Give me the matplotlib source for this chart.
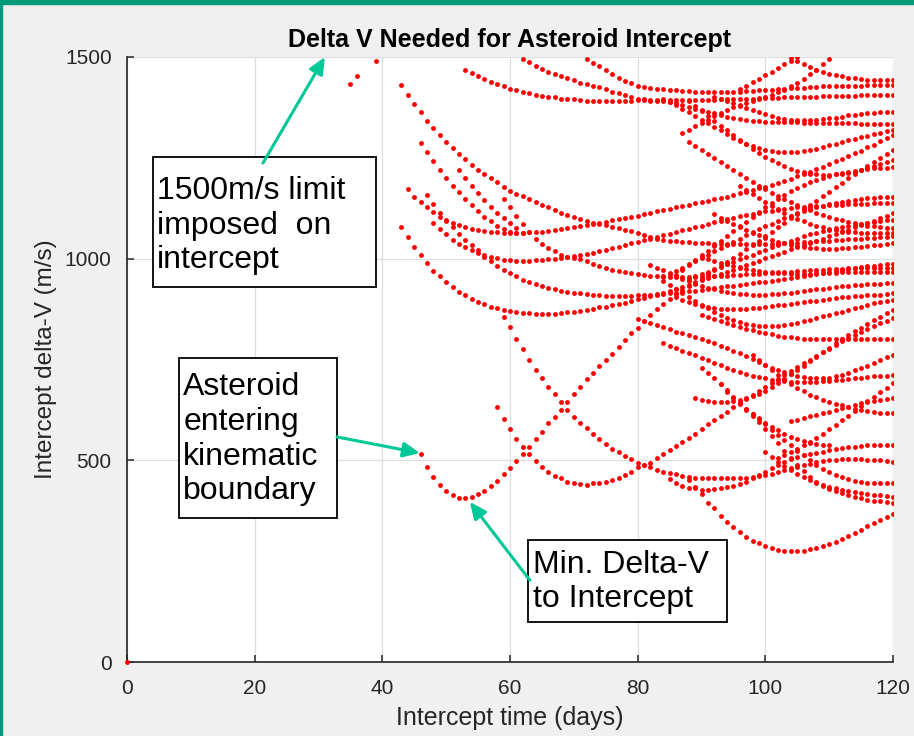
import numpy as np
import matplotlib
matplotlib.use('Agg')
import matplotlib.pyplot as plt
from matplotlib.patches import Rectangle

plt.rcParams['font.family'] = ['Liberation Sans', 'DejaVu Sans']

# stray points near the 1500 m/s limit
stray_days = [0, 35, 36, 39]
stray_dv = [0, 1432, 1452, 1490]

# each curve: first day + one delta-V value (m/s) per day
d1_start = 43
d1_dv = [1430, 1407, 1383, 1363, 1342, 1324, 1307, 1290, 1275, 1260,
         1246, 1233, 1221, 1210, 1199, 1189, 1178, 1169, 1161, 1155,
         1147, 1140, 1133, 1127, 1121, 1114, 1108, 1103, 1099, 1094,
         1089, 1086, 1083, 1079, 1075, 1071, 1068, 1064, 1059, 1054,
         1050, 1047, 1045, 1043, 1042, 1041, 1040, 1039, 1038, 1037,
         1037, 1036, 1036, 1036, 1036, 1036, 1036, 1036, 1037, 1037,
         1038, 1039, 1040, 1041, 1042, 1043, 1044, 1045, 1046, 1047,
         1048, 1049, 1050, 1051, 1052, 1053, 1054, 1055]

arc_a_start = 53
arc_a_dv = [1469, 1461, 1453, 1445, 1439, 1433, 1428, 1421, 1418, 1414,
            1411, 1407, 1404, 1401, 1400, 1397, 1396, 1395, 1393, 1392,
            1392, 1391, 1391, 1391, 1391, 1391, 1391, 1393, 1393, 1392,
            1391, 1390, 1388, 1385, 1381, 1377, 1372, 1368, 1364, 1360,
            1356, 1352, 1349, 1346, 1344, 1342, 1341, 1340, 1339, 1339,
            1338, 1338, 1338, 1337, 1337, 1337, 1337, 1336, 1336, 1336,
            1336, 1336, 1335, 1335, 1335, 1335, 1335, 1335]

arc_b_start = 62
arc_b_dv = [1495, 1487, 1478, 1470, 1463, 1458, 1453, 1447, 1443, 1436,
            1433, 1429, 1426, 1420, 1414, 1410, 1406, 1402, 1397, 1395,
            1394, 1393, 1393, 1393, 1393, 1393, 1393, 1393, 1394, 1394,
            1394, 1395, 1395, 1395, 1396, 1396, 1397, 1398, 1398, 1399,
            1399, 1400, 1400, 1401, 1401, 1402, 1402, 1403, 1403, 1403,
            1404, 1404, 1404, 1405, 1405, 1405, 1405, 1406, 1406]

arc_c_start = 72
arc_c_dv = [1495, 1486, 1477, 1468, 1457, 1447, 1441, 1435, 1428, 1426,
            1423, 1421, 1420, 1418, 1417, 1416, 1415, 1414, 1414, 1413,
            1413, 1413, 1413, 1413, 1414, 1415, 1416, 1417, 1418, 1419,
            1420, 1421, 1422, 1423, 1424, 1425, 1426, 1427, 1427, 1428,
            1428, 1429, 1429, 1429, 1430, 1430, 1430, 1430, 1430]

k4_start = 44
k4_dv = [1172, 1154, 1140, 1127, 1115, 1104, 1094, 1088, 1083, 1078,
         1074, 1070, 1069, 1066, 1065, 1064, 1063, 1063, 1063, 1065,
         1065, 1067, 1069, 1071, 1073, 1075, 1078, 1080, 1083, 1085,
         1088, 1092, 1096, 1099, 1101, 1104, 1107, 1111, 1114, 1117,
         1120, 1124, 1127, 1130, 1133, 1137, 1140, 1143, 1147, 1150,
         1154, 1158, 1162, 1166, 1170, 1174, 1178, 1183, 1188, 1193,
         1198, 1204, 1210, 1216, 1222, 1228, 1234, 1241, 1247, 1254,
         1261, 1268, 1276, 1283, 1291, 1298, 1306]

k5_start = 46
k5_dv = [1288, 1264, 1242, 1220, 1199, 1181, 1165, 1148, 1132, 1118,
         1104, 1093, 1081, 1073, 1066, 1063, 1063]

k6_start = 52
k6_dv = [1220, 1199, 1180, 1162, 1146, 1129, 1114, 1100, 1088, 1075]

k7_start = 59
k7_dv = [1149, 1127, 1106, 1086, 1066, 1050, 1036, 1026, 1018, 1010,
         1005, 1002, 998, 994, 988, 982, 977, 973, 970, 966,
         964, 962, 960, 958, 957, 956, 955, 955, 955, 955,
         955, 955, 956, 956, 957, 958, 959, 960, 961, 962,
         963, 964, 965, 966, 967, 968, 969, 970, 971, 972,
         973, 974, 975, 975, 976, 976, 976, 976, 976, 976,
         976, 976]

k8_start = 47
k8_dv = [1158, 1135, 1113, 1096, 1078, 1062, 1047, 1035, 1022, 1010,
         1005, 1001, 997, 996, 995, 995, 995, 996, 997, 998,
         1000, 1002, 1004, 1006, 1009, 1012, 1015, 1018, 1022, 1026,
         1030, 1034, 1038, 1042, 1046, 1050, 1054, 1058, 1062, 1066,
         1070, 1074, 1078, 1082, 1086, 1090, 1094, 1098, 1102, 1105,
         1108, 1111, 1114, 1117, 1119, 1121, 1123, 1125, 1127, 1128,
         1129, 1130, 1131, 1132, 1133, 1134, 1135, 1135, 1136, 1136,
         1137, 1137, 1137, 1137]

k9_start = 48
k9_dv = [1088, 1073, 1060, 1046, 1037, 1028, 1022, 1015, 1005, 993,
         982, 972, 964, 956, 947, 941, 937, 932, 928, 924,
         921, 917, 916, 914, 913, 911, 909, 908, 908, 908,
         908, 908, 909, 910, 911, 912, 913, 914, 915, 917,
         919, 921, 923, 925, 927, 929, 931, 933, 935, 937,
         939, 941, 943, 945, 947, 950, 952, 955, 957, 960,
         962, 965, 967, 970, 972, 975, 977, 979, 981, 983,
         985, 987, 988]

k10_start = 43
k10_dv = [1078, 1053, 1029, 1008, 989, 970, 956, 941, 929, 918,
          909, 900, 893, 887, 881, 877, 873, 870, 867, 866,
          865, 864, 864, 864, 864, 866, 868, 869, 870, 873,
          875, 879, 881, 884, 888, 891, 896, 899, 903, 907,
          911, 915, 920, 925, 930, 935, 940, 946, 951, 957,
          962, 968, 973, 979, 984, 990, 995, 1001, 1006, 1012,
          1017, 1023, 1028, 1034, 1039, 1045, 1050, 1056, 1061, 1067,
          1072, 1078, 1083, 1089, 1094, 1100, 1106, 1112]

k11_start = 59
k11_dv = [856, 830, 801, 775, 749, 725, 703, 683, 664, 645,
          625, 608, 593, 579, 565, 552, 540, 528, 520, 511,
          503, 493, 488, 483, 476, 472, 468, 465, 460, 458,
          456, 455, 455, 455, 455, 455, 455, 456, 457, 459,
          461, 464, 467, 471, 475, 480, 484, 488, 492, 495,
          498, 500, 502, 503, 504, 504, 503, 502, 501, 500,
          498, 497]

# the curve with the minimum delta-V
k12_start = 46
k12_dv = [515, 484, 458, 438, 424, 413, 407, 407, 408, 416,
          425, 436, 450, 465, 480, 499, 516, 534, 552, 571,
          592, 608, 626, 645, 664, 683, 701, 717, 735, 749,
          764, 782, 798, 815, 829, 845, 860, 875, 888, 900,
          912, 922, 932, 942, 951, 961, 971, 981, 991, 1001,
          1012, 1023, 1034, 1045, 1056, 1067, 1078, 1089, 1100, 1111,
          1122, 1133, 1144, 1155, 1166, 1177, 1188, 1199, 1210, 1220,
          1230, 1240, 1250, 1260, 1269]

k13_start = 58
k13_dv = [631, 603, 577, 553, 534, 516, 498, 484, 472, 461,
          455, 447, 443, 441, 440, 443, 445, 447, 451, 457,
          464, 472, 483, 488, 494, 505, 516, 526, 536, 546,
          556, 566, 577, 589, 600, 611, 621, 631, 641, 651,
          661, 671, 681, 691, 701, 711, 721, 731, 741, 750,
          759, 768, 777, 786, 795, 803, 811, 819, 826, 833,
          840, 846, 852]

low_u_start = 88
low_u_dv = [452, 433, 416, 395, 381, 362, 348, 334, 323, 311,
            301, 294, 288, 282, 278, 275, 274, 274, 276, 279,
            283, 288, 292, 298, 305, 312, 319, 327, 336, 344,
            352, 360, 366]

r17_start = 85
r17_dv = [453, 443, 436, 431, 431, 427, 426, 428, 431, 433,
          436, 441, 447, 455, 464, 472, 480, 488, 497, 503,
          509, 513, 516, 519, 521, 526, 527, 530, 532, 534,
          536, 537, 537, 538, 538, 538]

r18_start = 93
r18_dv = [690, 674, 658, 642, 626, 610, 594, 577, 560, 542,
          524, 506, 489, 473, 459, 446, 436, 430, 425, 420,
          414, 410, 406, 402, 400, 398, 397, 395]

r19_start = 96
r19_dv = [640, 628, 615, 602, 589, 576, 563, 550, 537, 524,
          512, 500, 489, 479, 470, 463, 458, 454, 450, 447,
          445, 444, 443, 443, 443]

r20_start = 100
r20_dv = [520, 508, 496, 485, 475, 466, 458, 451, 445, 440,
          435, 431, 427, 424, 421, 419, 417, 415, 413, 412, 410]

r22_start = 98
r22_dv = [760, 748, 736, 724, 712, 701, 690, 680, 671, 663,
          656, 650, 645, 640, 636, 632, 628, 625, 622, 620,
          618, 617, 617]

r23_start = 102
r23_dv = [505, 512, 520, 528, 537, 546, 556, 566, 577, 588,
          599, 611, 623, 635, 647, 658, 669, 680, 691]

r24_start = 104
r24_dv = [598, 601, 605, 609, 613, 617, 621, 625, 629, 633,
          637, 641, 644, 647, 650, 652, 654]

r25_start = 89
r25_dv = [655, 650, 647, 645, 644, 645, 647, 650, 654, 659,
          665, 673, 682, 692, 702, 713, 724, 735, 746, 757,
          768, 779, 790, 800, 810, 820, 829, 838, 847, 856,
          865, 873]

r26_start = 90
r26_dv = [730, 716, 703, 689, 670, 654, 641, 628, 616, 604,
          593, 583, 574, 566, 559, 553, 548, 544, 541, 539, 538]

r27_start = 80
r27_dv = [850, 846, 841, 835, 830, 825, 819, 815, 811, 806,
          801, 796, 790, 784, 778, 772, 765, 758, 751, 744,
          737, 730, 724, 718, 713, 709, 706, 704, 703, 703,
          705, 708, 712, 717, 723, 729, 735, 742, 748, 755, 761]

r28_start = 84
r28_dv = [790, 784, 778, 772, 766, 760, 754, 748, 742, 736,
          730, 724, 719, 714, 710, 706, 703, 700, 698, 696,
          695, 694, 694, 694, 695, 696, 697, 699, 700, 702,
          703, 705, 706, 708, 709, 710, 711]

r29_start = 90
r29_dv = [860, 855, 850, 845, 840, 835, 830, 826, 822, 818,
          815, 812, 809, 807, 805, 803, 802, 801, 800, 800,
          800, 800, 800, 800, 801, 801, 801, 802, 802, 802, 802]

r31_start = 84
r31_dv = [945, 935, 925, 915, 905, 895, 886, 877, 868, 860,
          853, 847, 842, 838, 835, 833, 832, 832, 833, 835,
          838, 841, 845, 849, 853, 857, 861, 865, 869, 873,
          877, 881, 885, 889, 892, 895, 898]

r32_start = 86
r32_dv = [905, 898, 892, 887, 883, 880, 878, 876, 875, 875,
          875, 876, 877, 878, 880, 882, 884, 886, 888, 890,
          892, 894, 896, 898, 900, 902, 904, 906, 907, 908,
          909, 910, 911, 913, 914]

r33_start = 82
r33_dv = [985, 978, 971, 964, 957, 950, 944, 938, 933, 928,
          924, 920, 917, 915, 913, 912, 911, 911, 911, 912,
          913, 914, 916, 918, 920, 922, 924, 926, 928, 929,
          931, 932, 934, 935, 936, 937, 938, 939, 939]

r35_start = 92
r35_dv = [1400, 1395, 1390, 1385, 1379, 1373, 1368, 1363, 1358, 1354,
          1350, 1347, 1345, 1344, 1344, 1344, 1345, 1346, 1348, 1350,
          1352, 1355, 1357, 1359, 1361, 1362, 1363, 1364, 1364]

r36_start = 84
r36_dv = [1395, 1388, 1380, 1372, 1363, 1354, 1345, 1336, 1327, 1318,
          1309, 1300, 1292, 1285, 1279, 1274, 1270, 1267, 1265, 1264,
          1264, 1265, 1267, 1270, 1273, 1277, 1281, 1285, 1289, 1293,
          1297, 1301, 1305, 1309, 1312, 1316, 1319]

r37_start = 88
r37_dv = [1390, 1378, 1366, 1354, 1342, 1330, 1318, 1306, 1295, 1284,
          1273, 1263, 1253, 1244, 1236, 1229, 1223, 1218, 1214, 1211,
          1209, 1208, 1208, 1209, 1211, 1213, 1216, 1220, 1224, 1229,
          1234, 1239, 1244]

r38_start = 86
r38_dv = [960, 972, 984, 996, 1008, 1020, 1032, 1044, 1056, 1068,
          1080, 1092, 1104, 1116, 1127, 1138, 1148, 1158, 1167, 1175,
          1183, 1190, 1196, 1201, 1205, 1209, 1212, 1215, 1218, 1220,
          1222, 1224, 1225, 1226, 1228]

r39_start = 84
r39_dv = [955, 962, 970, 978, 986, 994, 1002, 1010, 1018, 1026,
          1034, 1042, 1050, 1058, 1066, 1073, 1080, 1087, 1094, 1100,
          1106, 1112, 1117, 1122, 1127, 1131, 1135, 1138, 1141, 1144,
          1146, 1148, 1150, 1151, 1152, 1153, 1154]

r40_start = 88
r40_dv = [950, 956, 962, 968, 974, 980, 986, 992, 998, 1004,
          1010, 1016, 1022, 1028, 1034, 1040, 1045, 1050, 1055, 1060,
          1064, 1068, 1072, 1075, 1078, 1081, 1084, 1087, 1089, 1091,
          1093, 1095, 1096]

r41_start = 88
r41_dv = [1290, 1280, 1270, 1260, 1250, 1240, 1230, 1220, 1210, 1200,
          1190, 1181, 1172, 1163, 1155, 1147, 1140, 1133, 1126, 1120,
          1114, 1109, 1104, 1099, 1095, 1091, 1088, 1085, 1082, 1080,
          1078, 1076, 1075]

r42_start = 96
r42_dv = [1180, 1170, 1160, 1150, 1140, 1131, 1122, 1114, 1106, 1099,
          1093, 1087, 1082, 1078, 1074, 1071, 1068, 1066, 1065, 1064,
          1063, 1063, 1063, 1063, 1063]

r43_start = 92
r43_dv = [1110, 1102, 1094, 1086, 1078, 1071, 1064, 1058, 1052, 1047,
          1042, 1038, 1034, 1031, 1029, 1027, 1026, 1025, 1025, 1025,
          1026, 1027, 1028, 1030, 1031, 1033, 1035, 1036, 1038]

r44_start = 90
r44_dv = [1005, 1000, 995, 990, 986, 982, 978, 975, 972, 970,
          968, 966, 965, 964, 963, 963, 963, 963, 964, 964,
          965, 965, 966, 966, 967, 967, 967, 968, 968, 968, 968]

r46_start = 87
r46_dv = [1312, 1320, 1329, 1337, 1345, 1353, 1361, 1368, 1375, 1381,
          1387, 1392, 1397, 1401, 1406, 1412, 1419, 1427, 1436, 1446,
          1457, 1469, 1482, 1496]

r47_start = 104
r47_dv = [1498, 1490, 1482, 1475, 1469, 1464, 1459, 1455, 1452, 1449,
          1447, 1445, 1444, 1443, 1443, 1443, 1443]

r48_start = 96
r48_dv = [1420, 1428, 1437, 1446, 1455, 1464, 1473, 1482, 1491, 1499]

curves = [
    (d1_start, d1_dv), (arc_a_start, arc_a_dv), (arc_b_start, arc_b_dv),
    (arc_c_start, arc_c_dv), (k4_start, k4_dv), (k5_start, k5_dv),
    (k6_start, k6_dv), (k7_start, k7_dv), (k8_start, k8_dv),
    (k9_start, k9_dv), (k10_start, k10_dv), (k11_start, k11_dv),
    (k12_start, k12_dv), (k13_start, k13_dv), (low_u_start, low_u_dv),
    (r17_start, r17_dv), (r18_start, r18_dv), (r19_start, r19_dv),
    (r20_start, r20_dv), (r22_start, r22_dv), (r23_start, r23_dv),
    (r24_start, r24_dv), (r25_start, r25_dv), (r26_start, r26_dv),
    (r27_start, r27_dv), (r28_start, r28_dv), (r29_start, r29_dv),
    (r31_start, r31_dv), (r32_start, r32_dv), (r33_start, r33_dv),
    (r35_start, r35_dv), (r36_start, r36_dv), (r37_start, r37_dv),
    (r38_start, r38_dv), (r39_start, r39_dv), (r40_start, r40_dv),
    (r41_start, r41_dv), (r42_start, r42_dv), (r43_start, r43_dv),
    (r44_start, r44_dv), (r46_start, r46_dv), (r47_start, r47_dv),
    (r48_start, r48_dv),
]

fig = plt.figure(figsize=(9.14, 7.36), dpi=100, facecolor='#f0f0f0')
ax = fig.add_axes([127 / 914, 74 / 736, 766 / 914, 605 / 736])
ax.set_facecolor('white')

for start, dv in curves:
    days = start + np.arange(len(dv))
    ax.plot(days, dv, 'o', color='red', ms=3.5, mew=0, zorder=3)
ax.plot(stray_days, stray_dv, 'o', color='red', ms=3.5, mew=0, zorder=3, clip_on=False)

ax.set_xlim(0, 120)
ax.set_ylim(0, 1500)
ax.set_xticks(range(0, 121, 20))
ax.set_yticks([0, 500, 1000, 1500])
ax.grid(True, color='#dedede', lw=0.9)
ax.set_axisbelow(True)
for s in ['top', 'right']:
    ax.spines[s].set_visible(False)
for s in ['left', 'bottom']:
    ax.spines[s].set_color('#262626')
    ax.spines[s].set_linewidth(1.2)
ax.tick_params(direction='in', length=5, width=1.1, colors='#262626', labelsize=15)
ax.tick_params(axis='x', pad=12)
ax.tick_params(axis='y', pad=11)

ax.set_title('Delta V Needed for Asteroid Intercept', fontsize=18,
             fontweight='bold', pad=7)
ax.set_xlabel('Intercept time (days)', fontsize=18, color='#262626', labelpad=6)
ax.set_ylabel('Intercept delta-V (m/s)', fontsize=17.5, color='#262626', labelpad=6)

# annotation boxes
green = '#00c896'
boxes = [
    (4.07, 930, 34.9, 322, 4.7, 1082, '1500m/s limit\nimposed  on\nintercept'),
    (8.15, 357, 24.75, 397, 8.8, 552, 'Asteroid\nentering\nkinematic\nboundary'),
    (62.8, 99, 31.2, 203.5, 63.6, 198, 'Min. Delta-V\nto Intercept'),
]
for x0, y0, w, h, tx, ty, label in boxes:
    ax.add_patch(Rectangle((x0, y0), w, h, facecolor='white', edgecolor='black',
                           lw=1.3, zorder=5, clip_on=False))
    ax.text(tx, ty, label, fontsize=23, ha='left', va='center',
            linespacing=1.2, zorder=6)

arrows = [((21.3, 1237), (31.0, 1500)),
          ((32.9, 558), (45.9, 518)),
          ((63.1, 203), (53.7, 397))]
for tail, head in arrows:
    ax.annotate('', xy=head, xytext=tail, zorder=7,
                arrowprops=dict(arrowstyle='-|>,head_length=1.0,head_width=0.45',
                                color=green, lw=2.2, shrinkA=0, shrinkB=0))

# window frame
fig.add_artist(Rectangle((0, 1 - 4 / 736), 1, 4 / 736, transform=fig.transFigure,
                         color='#00997a', zorder=10))
fig.add_artist(Rectangle((0, 0), 2 / 914, 1, transform=fig.transFigure,
                         color='#00997a', zorder=10))

fig.savefig('out.png', dpi=100, facecolor=fig.get_facecolor())
